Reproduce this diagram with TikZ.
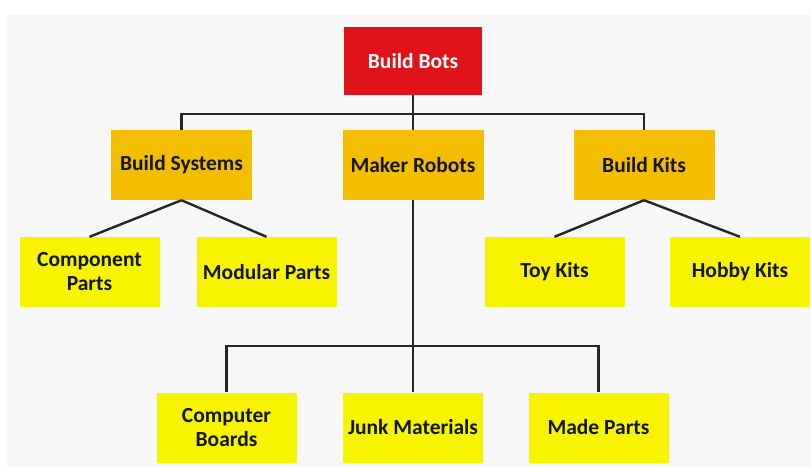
\documentclass[tikz,border=0pt]{standalone}
\usepackage{fontspec}
\setmainfont{Carlito}
\begin{document}
\begin{tikzpicture}[x=1pt,y=-1pt,
  box/.style={draw=none,align=center,inner sep=2pt,font=\bfseries\fontsize{21.5}{24}\selectfont,text=black!92},
  rootbox/.style={box,fill=rootred,minimum width=138pt,minimum height=68pt,text=white},
  midbox/.style={box,fill=midgold,minimum width=141pt,minimum height=70pt},
  leafbox/.style={box,fill=leafyellow,minimum width=140pt,minimum height=70pt},
  link/.style={draw=black!85,line width=2.4pt}]
\definecolor{rootred}{HTML}{E0121A}
\definecolor{midgold}{HTML}{F3BE00}
\definecolor{leafyellow}{HTML}{F8F400}
\definecolor{paper}{HTML}{F7F7F7}
\useasboundingbox (0,0) rectangle (811,466);
\fill[white] (0,0) rectangle (811,466);
\fill[paper] (7,15) rectangle (811,466);

% top of the tree
\node[rootbox] (bb) at (413,61) {Build Bots};

% second level
\node[midbox] (bs) at (181.5,165) {Build Systems};
\node[midbox] (mr) at (413,165) {Maker Robots};
\node[midbox] (bk) at (644,165) {Build Kits};

% leaves under the side branches
\node[leafbox] (cp) at (89.5,272) {Component\\Parts};
\node[leafbox] (mp) at (266.5,272) {Modular Parts};
\node[leafbox] (tk) at (554.5,272) {Toy Kits};
\node[leafbox] (hk) at (740,272) {Hobby Kits};

% leaves under the middle branch
\node[leafbox] (cb) at (226.5,427.5) {Computer\\Boards};
\node[leafbox] (jm) at (413,427.5) {Junk Materials};
\node[leafbox] (md) at (598.5,427.5) {Made Parts};

% bus lines
\coordinate (topbus) at (413,114);
\coordinate (lowbus) at (413,346);

\draw[link] (bb.south) -- (mr.north);
\draw[link] (bs.north) |- (topbus) -| (bk.north);

\draw[link] (bs.south) -- (cp.north);
\draw[link] (bs.south) -- (mp.north);
\draw[link] (bk.south) -- (tk.north);
\draw[link] (bk.south) -- (hk.north);

\draw[link] (mr.south) -- (jm.north);
\draw[link] (cb.north) |- (lowbus) -| (md.north);
\end{tikzpicture}
\end{document}
